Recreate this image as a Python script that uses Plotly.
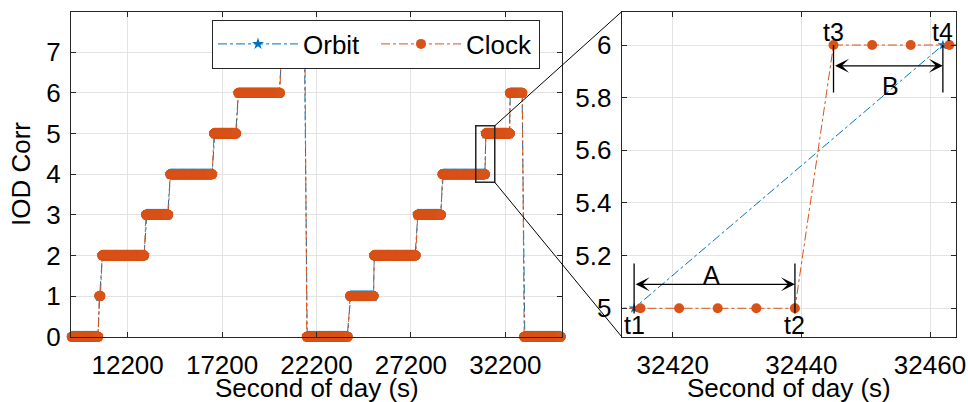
import numpy as np
import plotly.graph_objects as go

# ---- data ----
# IOD Corr step levels: start / end time (s of day) and value of each plateau
seg_start = [9234, 10700, 10855, 13169, 14457, 16771, 18059, 20320, 21682, 23975, 25247, 27561, 28864, 31163, 32445, 33192]
seg_end   = [10643, 10760, 13079, 14351, 16681, 17953, 20267, 21592, 23853, 25231, 27455, 28796, 31126, 32439, 33102, 35136]
seg_value = [0, 1, 2, 3, 4, 5, 6, 7, 0, 1, 2, 3, 4, 5, 6, 0]
clock_interval, clock_offset = 6, 3     # clock correction every 6 s (…32415, 32421, …)
orbit_interval, orbit_offset = 48, 14   # orbit correction every 48 s (…32414, 32462, …)

# zoomed window and annotation times
t_marks = [32414, 32439, 32445, 32462]
t_labels = ["t1", "t2", "t3", "t4"]
zoom_box_x = [30634, 31640]
zoom_box_y = [3.80, 5.193]

left_xticks = [12200, 17200, 22200, 27200, 32200]
left_yticks = [0, 1, 2, 3, 4, 5, 6, 7]
right_xticks = [32420, 32440, 32460]
right_yticks = [5, 5.2, 5.4, 5.6, 5.8, 6]

left_xrange = [9200, 35200]
left_yrange = [0, 8]
right_xrange = [32412.07, 32464.04]
right_yrange = [4.892, 6.1265]

BLUE = "#0072BD"
ORANGE = "#D95319"
AX = "#262626"
GRID = "#e3e3e3"
FONT = "Liberation Sans, Arial, Helvetica, sans-serif"


def sample(interval, offset):
    ts, vs = [], []
    for s, e, v in zip(seg_start, seg_end, seg_value):
        first = s + ((offset - s) % interval)
        t = np.arange(first, e + 1, interval)
        ts.append(t)
        vs.append(np.full(len(t), v, dtype=float))
    return np.concatenate(ts), np.concatenate(vs)


clock_t, clock_v = sample(clock_interval, clock_offset)
orbit_t, orbit_v = sample(orbit_interval, orbit_offset)

W, H = 968, 402
xd1 = [71 / W, 562 / W]
xd2 = [621.7 / W, 956 / W]
yd = [1 - 336.7 / H, 1 - 11.7 / H]

fig = go.Figure()
line_o = dict(color=BLUE, width=1, dash="dashdot")
line_c = dict(color=ORANGE, width=1, dash="dashdot")

fig.add_trace(go.Scatter(x=orbit_t, y=orbit_v, mode="lines+markers", name="Orbit",
                         line=line_o, marker=dict(symbol="star", size=9, color=BLUE),
                         cliponaxis=False, xaxis="x", yaxis="y"))
fig.add_trace(go.Scatter(x=clock_t, y=clock_v, mode="lines+markers", name="Clock",
                         line=line_c, marker=dict(symbol="circle", size=10, color=ORANGE),
                         cliponaxis=False, xaxis="x", yaxis="y"))
fig.add_trace(go.Scatter(x=orbit_t, y=orbit_v, mode="lines+markers", showlegend=False,
                         line=line_o, marker=dict(symbol="star", size=8, color=BLUE),
                         xaxis="x2", yaxis="y2"))
fig.add_trace(go.Scatter(x=clock_t, y=clock_v, mode="lines+markers", showlegend=False,
                         line=line_c, marker=dict(symbol="circle", size=10, color=ORANGE),
                         xaxis="x2", yaxis="y2"))

axcommon = dict(showline=True, linecolor=AX, linewidth=1, mirror="allticks",
                ticks="inside", ticklen=5, tickwidth=1, tickcolor=AX,
                showgrid=True, gridcolor=GRID, gridwidth=1, zeroline=False,
                automargin=False,
                tickfont=dict(family=FONT, size=26, color="#000000"))

fig.update_layout(
    width=W, height=H, margin=dict(l=0, r=0, t=0, b=0, autoexpand=False),
    paper_bgcolor="white", plot_bgcolor="white",
    font=dict(family=FONT, size=26, color="#000000"),
    xaxis=dict(domain=xd1, range=left_xrange, tickvals=left_xticks, tickformat="d",
               anchor="y", ticklabelstandoff=5, **axcommon),
    yaxis=dict(domain=yd, range=left_yrange, tickvals=left_yticks, anchor="x",
               ticklabelstandoff=4, **axcommon),
    xaxis2=dict(domain=xd2, range=right_xrange, tickvals=right_xticks, tickformat="d",
                anchor="y2", ticklabelstandoff=5, **axcommon),
    yaxis2=dict(domain=yd, range=right_yrange, tickvals=right_yticks,
                ticktext=[f"{v:g}" for v in right_yticks], anchor="x2",
                ticklabelstandoff=4, **axcommon),
    showlegend=True,
    legend=dict(orientation="h", x=212 / W, y=1 - 19.5 / H, xanchor="left", yanchor="top",
                bgcolor="white", bordercolor=AX, borderwidth=1,
                font=dict(family=FONT, size=26, color="#000000"),
                itemwidth=80, entrywidth=68, entrywidthmode="pixels"),
)

# axis titles
ann = [
    dict(text="IOD Corr", x=21 / W, y=1 - 174 / H, xref="paper", yref="paper",
         xanchor="center", yanchor="middle",
         textangle=-90, showarrow=False, font=dict(size=26)),
    dict(text="Second of day (s)", x=(xd1[0] + xd1[1]) / 2, y=1 - 388 / H, xref="paper",
         yref="paper", xanchor="center", yanchor="middle", showarrow=False, font=dict(size=26)),
    dict(text="Second of day (s)", x=(xd2[0] + xd2[1]) / 2, y=1 - 388 / H, xref="paper",
         yref="paper", xanchor="center", yanchor="middle", showarrow=False, font=dict(size=26)),
]
# t labels
for i, (t, lab) in enumerate(zip(t_marks, t_labels)):
    yy = 4.935 if i < 2 else 6.05
    ann.append(dict(text=lab, x=t, y=yy, xref="x2", yref="y2", showarrow=False,
                    xanchor="center", yanchor="middle", font=dict(size=25)))
# double arrows A and B
for (ta, tb, ya, lab, lx, ly) in [(t_marks[0], t_marks[1], 5.091, "A", 32426.1, 5.126),
                                  (t_marks[2], t_marks[3], 5.921, "B", 32453.9, 5.845)]:
    ann.append(dict(text="", x=tb, y=ya, ax=ta, ay=ya, xref="x2", yref="y2",
                    axref="x2", ayref="y2", showarrow=True, arrowside="end+start",
                    arrowhead=3, startarrowhead=3, arrowsize=1.8, startarrowsize=1.8,
                    arrowwidth=1.3, arrowcolor="#000000", standoff=0, startstandoff=0))
    ann.append(dict(text=lab, x=lx, y=ly, xref="x2", yref="y2", showarrow=False,
                    xanchor="center", yanchor="middle", font=dict(size=25)))
fig.update_layout(annotations=ann)

shapes = []
# vertical marker bars
for i, t in enumerate(t_marks):
    y0, y1 = (4.98, 5.17) if i < 2 else (5.82, 6.0)
    shapes.append(dict(type="line", x0=t, x1=t, y0=y0, y1=y1, xref="x2", yref="y2",
                       line=dict(color="#000000", width=1.3)))
# zoom rectangle on left panel
shapes.append(dict(type="rect", x0=zoom_box_x[0], x1=zoom_box_x[1], y0=zoom_box_y[0],
                   y1=zoom_box_y[1], xref="x", yref="y", line=dict(color=AX, width=1.5)))


def to_paper_x(x):
    return xd1[0] + (x - left_xrange[0]) / (left_xrange[1] - left_xrange[0]) * (xd1[1] - xd1[0])


def to_paper_y(y):
    return yd[0] + (y - left_yrange[0]) / (left_yrange[1] - left_yrange[0]) * (yd[1] - yd[0])


px = to_paper_x(zoom_box_x[1])
shapes.append(dict(type="line", x0=px, y0=to_paper_y(zoom_box_y[1]), x1=xd2[0], y1=yd[1],
                   xref="paper", yref="paper", line=dict(color="#000000", width=1)))
shapes.append(dict(type="line", x0=px, y0=to_paper_y(zoom_box_y[0]), x1=xd2[0], y1=yd[0],
                   xref="paper", yref="paper", line=dict(color="#000000", width=1)))
fig.update_layout(shapes=shapes)

fig.write_html("out.html", config={"displayModeBar": False},
               post_script="document.body.style.margin='0';document.body.style.overflow='hidden';")
